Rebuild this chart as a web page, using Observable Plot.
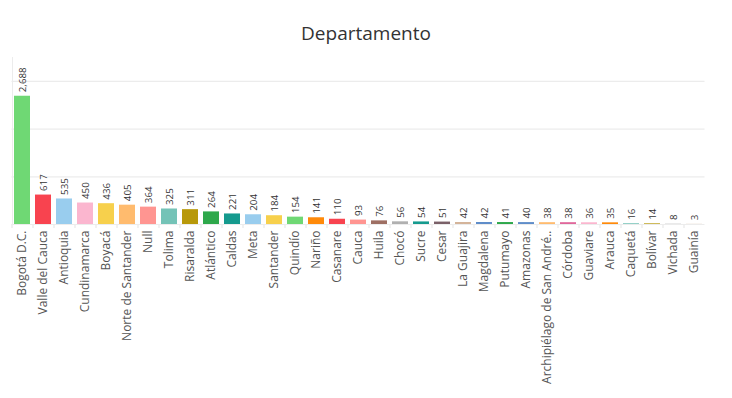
<!DOCTYPE html>
<html>
<head>
<meta charset="utf-8">
<script src="https://cdn.jsdelivr.net/npm/d3@7"></script>
<script src="https://cdn.jsdelivr.net/npm/@observablehq/plot@0.6"></script>
<style>
  html, body { margin: 0; padding: 0; background: #fff; }
  #title { height: 50px; width: 732px; text-align: center; font-family: "Open Sans", "DejaVu Sans", sans-serif; font-size: 19px; color: #333; line-height: 20px; padding-top: 23px; box-sizing: border-box; }
  #chart svg { display: block; }
</style>
</head>
<body>
<div id="title">Departamento</div>
<div id="chart"></div>
<script>
const categories = ["Bogotá D.C.","Valle del Cauca","Antioquia","Cundinamarca","Boyacá","Norte de Santander","Null","Tolima","Risaralda","Atlántico","Caldas","Meta","Santander","Quindío","Nariño","Casanare","Cauca","Huila","Chocó","Sucre","Cesar","La Guajira","Magdalena","Putumayo","Amazonas","Archipiélago de San Andrés, Providencia y Santa Catalina","Córdoba","Guaviare","Arauca","Caquetá","Bolívar","Vichada","Guainía"];
const values = [2688,617,535,450,436,405,364,325,311,264,221,204,184,154,141,110,93,76,56,54,51,42,42,41,40,38,38,36,35,16,14,8,3];
const colors = ["#6fd874","#f8434f","#99cdee","#fbb6cf","#f7d04c","#ffbb6e","#ff9591","#74c3b7","#b8990a","#2ea84b","#159a8e","#99cdee","#f7d04c","#6fd874","#ff8a0a","#f8434f","#ff9591","#9e6f63","#b0b0b0","#159a8e","#7a6068","#d4b49a","#5f8dc9","#2ea84b","#5f8dc9","#ffbb6e","#e0679b","#fbb6cf","#ff8a0a","#74c3b7","#b8990a","#c9c9c9","#d4b49a"];
const yGrid = [1000, 2000, 3000];

const data = categories.map((c, i) => ({cat: c, value: values[i], color: colors[i]}));
const shortLabel = c => c.length > 26 ? c.slice(0, 25) + ".." : c;

const chart = Plot.plot({
  width: 732,
  height: 348,
  marginTop: 7,
  marginBottom: 174,
  marginLeft: 11.5,
  marginRight: 27.5,
  style: {fontFamily: "'Open Sans', 'DejaVu Sans', sans-serif", background: "#fff"},
  x: {domain: categories, paddingInner: 0.24, paddingOuter: 0.12, label: null},
  y: {domain: [0, 3500], label: null, axis: null},
  marks: [
    Plot.ruleY(yGrid, {stroke: "#ececec", strokeWidth: 1.2}),
    Plot.axisX({tickSize: 4, tickFormat: () => "", dx: -10.5, stroke: "#e3e3e3"}),
    Plot.barY(data, {x: "cat", y: "value", fill: "color"}),
    Plot.ruleY([0], {stroke: "#ececec"}),
    Plot.axisX({tickSize: 0, tickPadding: 6, tickRotate: -90, fontSize: 12, fill: "#555", tickFormat: shortLabel}),
    Plot.text(data, {x: "cat", y: "value", text: d => d3.format(",")(d.value), rotate: -90, textAnchor: "start", dy: -4, fontSize: 9.8, fill: "#333"})
  ]
});
// left axis line
d3.select(chart).append("line")
  .attr("x1", 12.5).attr("x2", 12.5).attr("y1", 7).attr("y2", 174)
  .attr("stroke", "#ececec");
document.getElementById("chart").appendChild(chart);
</script>
</body>
</html>
